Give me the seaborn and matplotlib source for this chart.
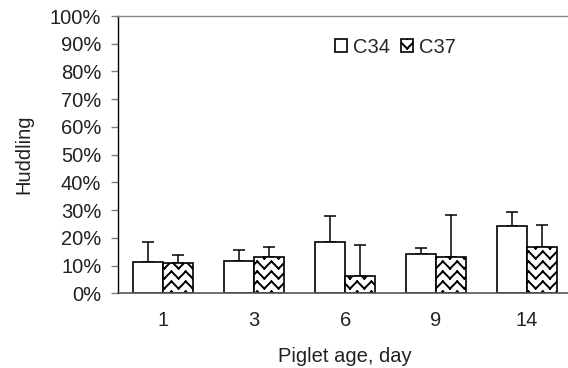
import warnings
import numpy as np
import pandas as pd
import seaborn as sns
import matplotlib
matplotlib.use("Agg")
import matplotlib.pyplot as plt
import matplotlib.hatch as mhatch
from matplotlib.path import Path
from matplotlib.ticker import PercentFormatter

warnings.filterwarnings("ignore")

# Data (percent of time spent huddling, mean and upper error)
ages = ["1", "3", "6", "9", "14"]
groups = ["C34", "C37"]
c34_mean = [11.4, 11.8, 18.6, 14.1, 24.3]
c34_err = [7.2, 3.8, 9.1, 2.3, 4.9]
c37_mean = [11.0, 13.2, 6.4, 13.2, 16.8]
c37_err = [2.9, 3.5, 11.0, 15.2, 8.0]


# zigzag hatch, triggered by 'z' (separate segments so agg does not fill it)
class ZigZagHatch(mhatch.HatchPatternBase):
    def __init__(self, hatch, density):
        self.num_rows = hatch.count('z') * 10
        self.num_zigs = 14
        self.num_vertices = self.num_rows * self.num_zigs * 2

    def set_vertices_and_codes(self, vertices, codes):
        n = self.num_zigs
        xs = np.linspace(0, 1, n + 1)
        amp = np.where(np.arange(n + 1) % 2 == 0, 0.036, -0.036)
        for i in range(self.num_rows):
            y0 = (i + 0.5) / self.num_rows
            for j in range(n):
                idx = 2 * (i * n + j)
                vertices[idx] = (xs[j], y0 + amp[j])
                vertices[idx + 1] = (xs[j + 1], y0 + amp[j + 1])
                codes[idx] = Path.MOVETO
                codes[idx + 1] = Path.LINETO


mhatch._hatch_types.append(ZigZagHatch)

df = pd.DataFrame({
    'age': ages * 2,
    'group': [groups[0]] * 5 + [groups[1]] * 5,
    'huddling': c34_mean + c37_mean,
})
errs = [c34_err, c37_err]

sns.set_theme(style="white")
plt.rcParams['font.family'] = ['Liberation Sans', 'DejaVu Sans']
plt.rcParams['hatch.linewidth'] = 1.4

fs = 14.5
fig = plt.figure(figsize=(5.68, 3.68), dpi=100)
ax = fig.add_axes([0.2077, 0.203, 0.8, 0.7535])

sns.barplot(data=df, x='age', y='huddling', hue='group', order=ages,
            hue_order=groups, palette=['white', 'white'], edgecolor='black',
            linewidth=1.2, width=0.66, errorbar=None, ax=ax)

bar_conts = list(ax.containers)

# hatch C37 bars and add one-sided error bars
for k, cont in enumerate(bar_conts):
    xs, ys = [], []
    for bar in cont.patches:
        if k == 1:
            bar.set_hatch('z')
        bar.set_zorder(2)
        xs.append(bar.get_x() + bar.get_width() / 2)
        ys.append(bar.get_height())
    ax.errorbar(xs, ys, yerr=[np.zeros(len(ys)), errs[k]], fmt='none',
                ecolor='black', elinewidth=1.1, capsize=4.3, capthick=1.1,
                zorder=1)

ax.set_ylim(0, 100)
ax.set_xlim(-0.5, 4.5)
ax.set_yticks(np.arange(0, 101, 10))
ax.yaxis.set_major_formatter(PercentFormatter(100, decimals=0))
ax.set_xlabel("Piglet age, day", fontsize=fs, labelpad=12, color='#222222')
ax.set_ylabel("Huddling", fontsize=fs, labelpad=12, color='#222222')
ax.tick_params(axis='x', length=0, pad=13, labelsize=fs, labelcolor='#222222')
ax.tick_params(axis='y', left=True, length=5, width=1, color='#808080',
               pad=7, labelsize=fs, labelcolor='#222222')

ax.spines['right'].set_visible(False)
ax.spines['left'].set_color('black')
ax.spines['left'].set_linewidth(1.0)
ax.spines['bottom'].set_color('#555555')
ax.spines['bottom'].set_linewidth(1.2)
ax.spines['top'].set_color('#888888')
ax.spines['top'].set_linewidth(1.0)

ax.legend(bar_conts, groups, loc='center', bbox_to_anchor=(0.61, 0.887),
          ncol=2, frameon=False, fontsize=fs, handlelength=0.6,
          handleheight=0.6, handletextpad=0.3, columnspacing=0.55)

fig.savefig("out.png", dpi=100)
